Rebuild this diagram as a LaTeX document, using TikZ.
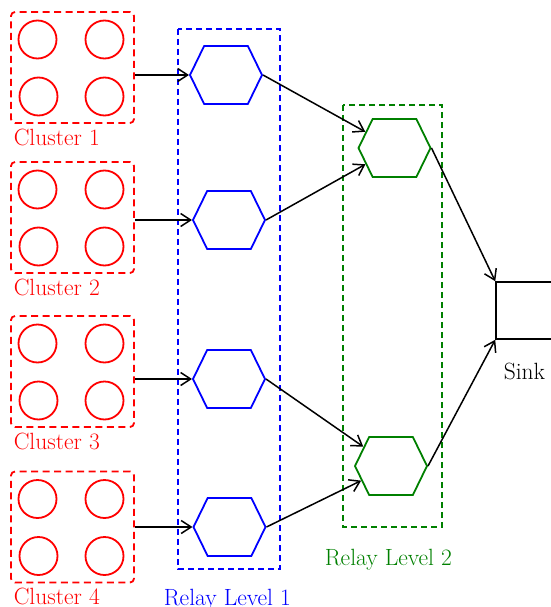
\documentclass[tikz,border=0pt]{standalone}
\usepackage{fontspec}
\usetikzlibrary{arrows.meta,positioning,shapes.symbols}

\begin{document}
\begin{tikzpicture}[x=1pt,y=-1pt,line width=1.5pt,
cluster/.style={rectangle,draw=red,line width=1.8pt,rounded corners=4pt,dash pattern=on 7pt off 4.5pt,minimum width=123pt,minimum height=111pt},
sensor/.style={circle,draw=red,line width=1.8pt,minimum size=38pt,inner sep=0pt},
relay/.style={signal,signal to=east and west,signal pointer angle=128,line width=1.8pt,minimum width=72pt,minimum height=58pt,inner sep=0pt},
lbl/.style={inner sep=0pt,anchor=base west,font=\fontsize{23.5pt}{28pt}\selectfont},
levelbox/.style={line width=1.8pt,dash pattern=on 6pt off 4pt},
arr/.style={-{Straight Barb[length=10pt,width=13pt]}}]
\useasboundingbox (0,0) rectangle (550,607);
% clusters
\node[cluster] (C1) at (72.5,67.5) {};
\node[sensor] (S1a) at (37.5,39.5) {};
\node[sensor] (S1b) at (104.5,39.5) {};
\node[sensor] (S1c) at (38.5,96.5) {};
\node[sensor] (S1d) at (104.5,96.5) {};
\node[lbl,text=red] (L1) at (13,145) {Cluster 1};
\node[cluster] (C2) at (72.5,217.5) {};
\node[sensor] (S2a) at (37.5,189.5) {};
\node[sensor] (S2b) at (104.5,189.5) {};
\node[sensor] (S2c) at (38.5,246.5) {};
\node[sensor] (S2d) at (104.5,246.5) {};
\node[lbl,text=red] (L2) at (13,295) {Cluster 2};
\node[cluster] (C3) at (72.5,371.5) {};
\node[sensor] (S3a) at (37.5,343.5) {};
\node[sensor] (S3b) at (104.5,343.5) {};
\node[sensor] (S3c) at (38.5,400.5) {};
\node[sensor] (S3d) at (104.5,400.5) {};
\node[lbl,text=red] (L3) at (13,449) {Cluster 3};
\node[cluster] (C4) at (72.5,527) {};
\node[sensor] (S4a) at (37.5,499) {};
\node[sensor] (S4b) at (104.5,499) {};
\node[sensor] (S4c) at (38.5,556) {};
\node[sensor] (S4d) at (104.5,556) {};
\node[lbl,text=red] (L4) at (13,604.5) {Cluster 4};
% relay level 1
\draw[blue,levelbox] (178,29) rectangle (280,569);
\node[relay,draw=blue] (H1) at (226,75) {};
\node[relay,draw=blue] (H2) at (229,220) {};
\node[relay,draw=blue] (H3) at (229,379) {};
\node[relay,draw=blue] (H4) at (229.5,527) {};
\node[lbl,text=blue] (R1) at (163,605) {Relay Level 1};
% relay level 2
\draw[green!50!black,levelbox] (343,105) rectangle (442,527);
\node[relay,draw=green!50!black] (H5) at (394.5,148) {};
\node[relay,draw=green!50!black] (H6) at (391,466) {};
\node[lbl,text=green!50!black] (R2) at (324,565) {Relay Level 2};
% sink
\node[rectangle,draw,minimum width=100pt,minimum height=57pt] (K) at (546,310.5) {};
\node[lbl] (KL) at (503,379) {Sink};
\draw[arr] (C1.east |- H1) -- (H1.west);
\draw[arr] (C2.east |- H2) -- (H2.west);
\draw[arr] (C3.east |- H3) -- (H3.west);
\draw[arr] (C4.east |- H4) -- (H4.west);
\draw[arr] (H1.east) -- (H5);
\draw[arr] (H2.east) -- (H5);
\draw[arr] (H3.east) -- (H6);
\draw[arr] (H4.east) -- (H6);
\draw[arr] (H5.east) -- (K.north west);
\draw[arr] (H6.east) -- (K.south west);
\end{tikzpicture}
\end{document}
